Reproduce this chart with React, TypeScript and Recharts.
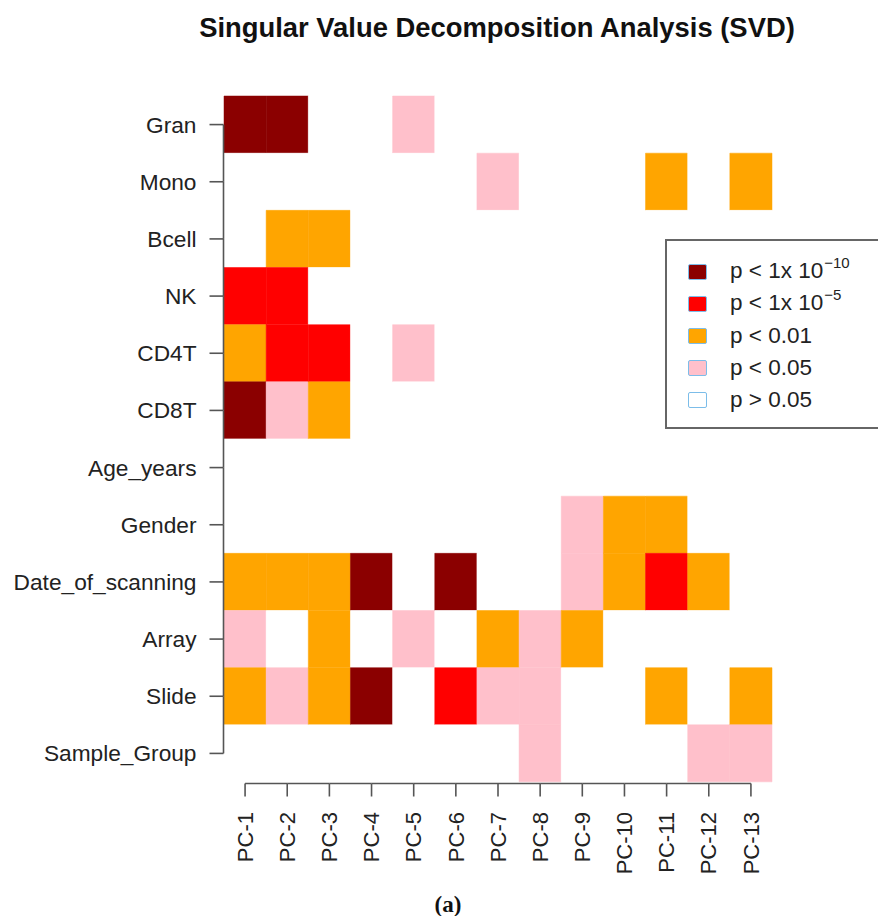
import { Bar, BarChart, Cell, Legend, XAxis, YAxis } from "recharts";

const variables = [
  "Gran",
  "Mono",
  "Bcell",
  "NK",
  "CD4T",
  "CD8T",
  "Age_years",
  "Gender",
  "Date_of_scanning",
  "Array",
  "Slide",
  "Sample_Group",
];

const components = [
  "PC-1",
  "PC-2",
  "PC-3",
  "PC-4",
  "PC-5",
  "PC-6",
  "PC-7",
  "PC-8",
  "PC-9",
  "PC-10",
  "PC-11",
  "PC-12",
  "PC-13",
];

// significance level per PC: 0 p>0.05, 1 p<0.05, 2 p<0.01, 3 p<1e-5, 4 p<1e-10
const gran = [4, 4, 0, 0, 1, 0, 0, 0, 0, 0, 0, 0, 0];
const mono = [0, 0, 0, 0, 0, 0, 1, 0, 0, 0, 2, 0, 2];
const bcell = [0, 2, 2, 0, 0, 0, 0, 0, 0, 0, 0, 0, 0];
const nk = [3, 3, 0, 0, 0, 0, 0, 0, 0, 0, 0, 0, 0];
const cd4t = [2, 3, 3, 0, 1, 0, 0, 0, 0, 0, 0, 0, 0];
const cd8t = [4, 1, 2, 0, 0, 0, 0, 0, 0, 0, 0, 0, 0];
const ageYears = [0, 0, 0, 0, 0, 0, 0, 0, 0, 0, 0, 0, 0];
const gender = [0, 0, 0, 0, 0, 0, 0, 0, 1, 2, 2, 0, 0];
const dateOfScanning = [2, 2, 2, 4, 0, 4, 0, 0, 1, 2, 3, 2, 0];
const array = [1, 0, 2, 0, 1, 0, 2, 1, 2, 0, 0, 0, 0];
const slide = [2, 1, 2, 4, 0, 3, 1, 1, 0, 0, 2, 0, 2];
const sampleGroup = [0, 0, 0, 0, 0, 0, 0, 1, 0, 0, 0, 1, 1];

const levels = [
  gran,
  mono,
  bcell,
  nk,
  cd4t,
  cd8t,
  ageYears,
  gender,
  dateOfScanning,
  array,
  slide,
  sampleGroup,
];

const levelColors = ["#ffffff", "#ffc0cb", "#ffa500", "#ff0000", "#8b0000"];

const legendItems = [
  { level: 4, text: "p < 1x 10", sup: "\u221210" },
  { level: 3, text: "p < 1x 10", sup: "\u22125" },
  { level: 2, text: "p < 0.01", sup: "" },
  { level: 1, text: "p < 0.05", sup: "" },
  { level: 0, text: "p > 0.05", sup: "" },
];

// every cell is one unit wide, stacked along the PC axis
const rows = variables.map((name) => {
  const row: Record<string, string | number> = { name };
  components.forEach((pc) => {
    row[pc] = 1;
  });
  return row;
});

const tickPositions = components.map((_, i) => i + 0.5);

const WIDTH = 878;
const HEIGHT = 916;
const MARGIN = { top: 96, right: 106, bottom: 0, left: 0 };
const Y_AXIS_WIDTH = 224;
const X_AXIS_HEIGHT = 134;
const COL_STEP = (WIDTH - MARGIN.right - Y_AXIS_WIDTH) / components.length;
const ROW_STEP = (HEIGHT - MARGIN.top - X_AXIS_HEIGHT) / variables.length;

const font = '"Liberation Sans", Arial, sans-serif';
const axisColor = "#555";
const textColor = "#222";

function XTick(props: any) {
  const { x, y, index } = props;
  const label = components[index];
  const ay = y + 1.5;
  return (
    <g>
      {index < components.length - 1 && (
        <line x1={x} x2={x + COL_STEP} y1={ay} y2={ay} stroke={axisColor} strokeWidth={1.6} />
      )}
      <line x1={x} x2={x} y1={ay} y2={ay + 13} stroke={axisColor} strokeWidth={1.6} />
      <text
        transform={`translate(${x},${y + 30}) rotate(-90)`}
        textAnchor="end"
        dy="0.35em"
        fontFamily={font}
        fontSize={22}
        fill={textColor}
      >
        {label}
      </text>
    </g>
  );
}

function YTick(props: any) {
  const { x, y, index, payload } = props;
  const ax = x - 0.5;
  return (
    <g>
      {index < variables.length - 1 && (
        <line x1={ax} x2={ax} y1={y} y2={y + ROW_STEP} stroke={axisColor} strokeWidth={1.6} />
      )}
      <line x1={ax - 14} x2={ax} y1={y} y2={y} stroke={axisColor} strokeWidth={1.6} />
      <text
        x={ax - 27}
        y={y}
        textAnchor="end"
        dy="0.35em"
        fontFamily={font}
        fontSize={22.7}
        fill={textColor}
      >
        {payload.value}
      </text>
    </g>
  );
}

function LegendBox() {
  return (
    <div
      style={{
        boxSizing: "border-box",
        width: 230,
        height: 190,
        border: "2px solid #666",
        background: "#fff",
        paddingTop: 15,
        paddingLeft: 21,
        fontFamily: font,
        color: textColor,
        textAlign: "left",
      }}
    >
      {legendItems.map((item) => (
        <div
          key={item.text + item.sup + item.level}
          style={{ display: "flex", alignItems: "center", height: 32 }}
        >
          <span
            style={{
              boxSizing: "border-box",
              display: "inline-block",
              width: 19,
              height: 16,
              background: levelColors[item.level],
              border: "1.5px solid #7cbde9",
              borderRadius: 2,
              marginRight: 23,
            }}
          />
          <span style={{ fontSize: 22.5, lineHeight: "32px", whiteSpace: "nowrap" }}>
            {item.text}
            {item.sup && (
              <span style={{ fontSize: 15, position: "relative", top: -10, marginLeft: 1 }}>
                {item.sup}
              </span>
            )}
          </span>
        </div>
      ))}
    </div>
  );
}

export default function App() {
  return (
    <div
      style={{
        position: "absolute",
        left: 0,
        top: 0,
        width: WIDTH,
        height: HEIGHT,
        overflow: "hidden",
        background: "#fff",
      }}
    >
      <div
        style={{
          position: "absolute",
          left: 0,
          top: 14,
          width: 994,
          textAlign: "center",
          fontFamily: font,
          fontWeight: 700,
          fontSize: 27.4,
          lineHeight: "27px",
          color: "#111",
          zIndex: 2,
        }}
      >
        Singular Value Decomposition Analysis (SVD)
      </div>
      <BarChart
        width={WIDTH}
        height={HEIGHT}
        data={rows}
        layout="vertical"
        margin={MARGIN}
        barCategoryGap={0}
        barGap={0}
      >
        <XAxis
          type="number"
          domain={[0, components.length]}
          ticks={tickPositions}
          height={X_AXIS_HEIGHT}
          axisLine={false}
          tickLine={false}
          tickSize={0}
          tickMargin={0}
          interval={0}
          tick={(p: any) => <XTick {...p} />}
        />
        <YAxis
          type="category"
          dataKey="name"
          width={Y_AXIS_WIDTH}
          axisLine={false}
          tickLine={false}
          tickSize={0}
          tickMargin={0}
          interval={0}
          tick={(p: any) => <YTick {...p} />}
        />
        {components.map((pc, j) => (
          <Bar key={pc} dataKey={pc} stackId="cells" isAnimationActive={false}>
            {rows.map((row, i) => {
              const color = levelColors[levels[i][j]];
              return (
                <Cell key={String(row.name)} fill={color} stroke={color} strokeWidth={0.5} />
              );
            })}
          </Bar>
        ))}
        <Legend
          layout="horizontal"
          verticalAlign="middle"
          align="center"
          wrapperStyle={{ left: 665, top: 239, width: 230, height: 190 }}
          content={() => <LegendBox />}
        />
      </BarChart>
      <div
        style={{
          position: "absolute",
          left: 348,
          top: 893,
          width: 200,
          textAlign: "center",
          fontFamily: '"Liberation Serif", "Times New Roman", serif',
          fontWeight: 700,
          fontSize: 23,
          lineHeight: "23px",
          color: "#111",
        }}
      >
        (a)
      </div>
    </div>
  );
}
